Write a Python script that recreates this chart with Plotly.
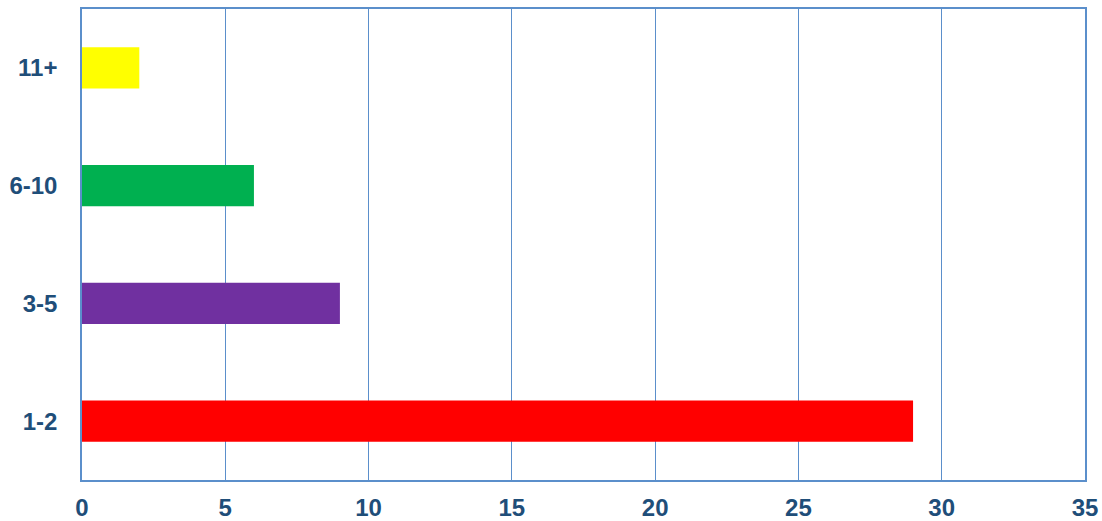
import plotly.graph_objects as go

# Count of items by group size
categories = ["1-2", "3-5", "6-10", "11+"]
values = [29, 9, 6, 2]
bar_colors = ["#FF0000", "#7030A0", "#00B050", "#FFFF00"]
x_ticks = [0, 5, 10, 15, 20, 25, 30, 35]

line_blue = "#5B8FCB"
text_blue = "#1F4E79"

fig = go.Figure(
    go.Bar(
        x=values,
        y=categories,
        orientation="h",
        marker=dict(color=bar_colors, line=dict(width=0)),
        width=0.35,
    )
)

fig.update_layout(
    width=1102,
    height=521,
    margin=dict(l=82, r=17, t=9, b=41),
    paper_bgcolor="white",
    plot_bgcolor="white",
    showlegend=False,
    font=dict(family="Liberation Sans, Arial, sans-serif", size=24, color=text_blue),
)

fig.update_xaxes(
    range=[0, 35],
    tickvals=x_ticks,
    automargin=False,
    showgrid=True,
    gridcolor=line_blue,
    gridwidth=1,
    zeroline=False,
    showline=True,
    linecolor=line_blue,
    linewidth=1.5,
    mirror=True,
    ticks="",
    ticklabelstandoff=5,
    tickfont=dict(size=24, color=text_blue, weight="bold"),
)

fig.update_yaxes(
    categoryorder="array",
    categoryarray=categories,
    range=[-0.5, 3.5],
    automargin=False,
    showgrid=False,
    zeroline=False,
    showline=True,
    linecolor=line_blue,
    linewidth=1.5,
    mirror=True,
    ticks="",
    ticklabelstandoff=18,
    tickfont=dict(size=24, color=text_blue, weight="bold"),
)

fig.write_html("out.html")
